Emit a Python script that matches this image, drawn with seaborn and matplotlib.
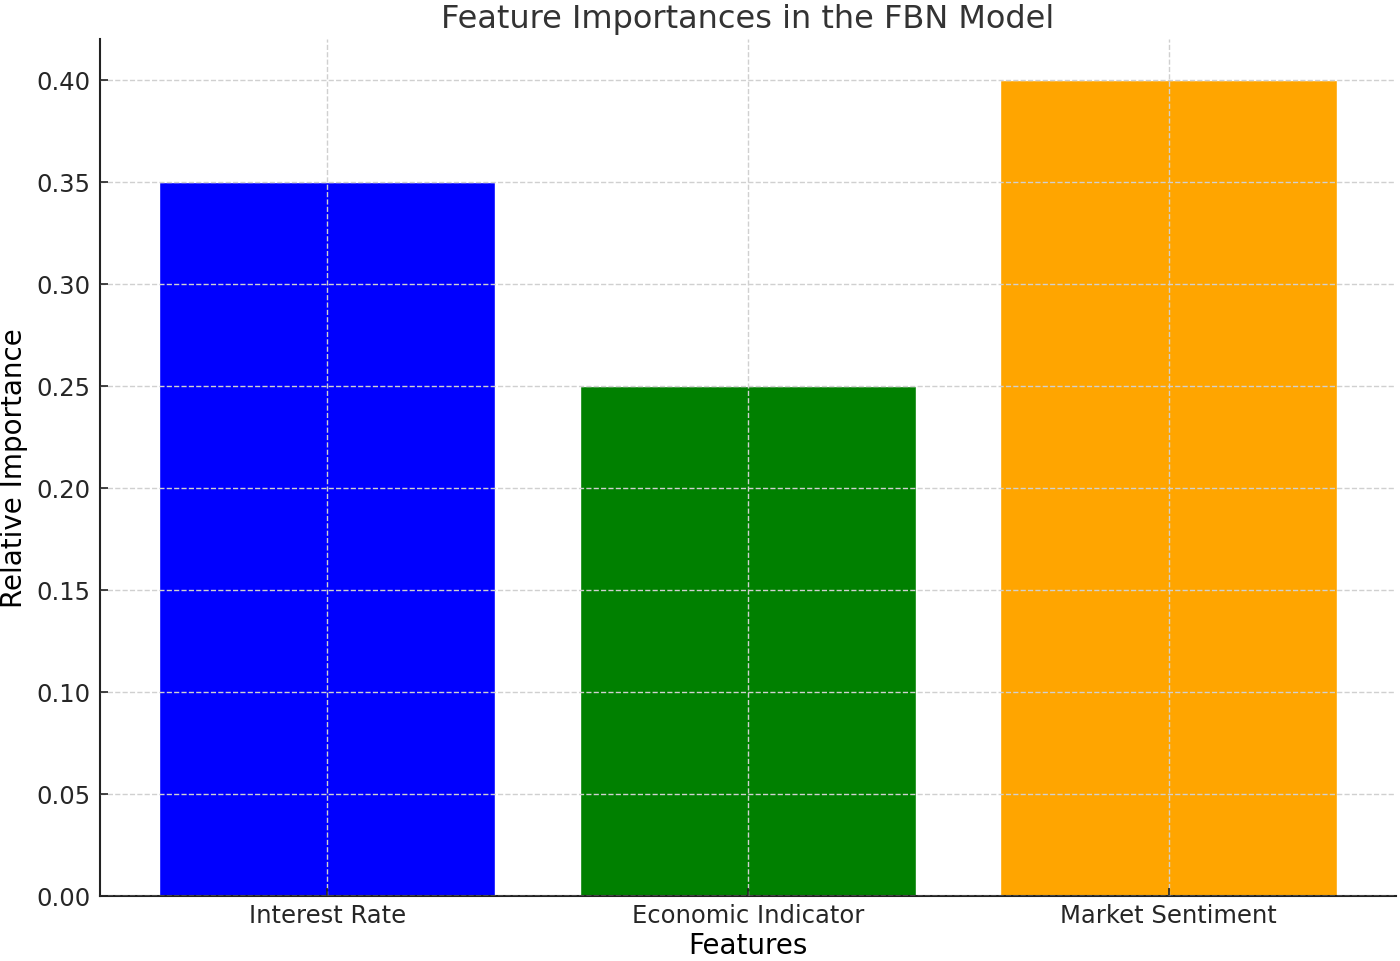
import matplotlib
matplotlib.use("Agg")
import matplotlib.pyplot as plt
import pandas as pd
import seaborn as sns

features = ["Interest Rate", "Economic Indicator", "Market Sentiment"]
importances = [0.35, 0.25, 0.40]
bar_colors = ["#0000ff", "#008000", "#ffa500"]

title = "Feature Importances in the FBN Model"
x_label = "Features"
y_label = "Relative Importance"


def make_plot():
    data = pd.DataFrame({"feature": features, "importance": importances})

    sns.set_theme(style="ticks")
    plt.rcParams["font.family"] = ["DejaVu Sans"]
    text_color = "#262626"

    fig = plt.figure(figsize=(14, 9.62), dpi=100)
    ax = fig.add_axes([0.0714, 0.0676, 0.9256, 0.8908])

    sns.barplot(data=data, x="feature", y="importance", hue="feature",
                palette=bar_colors, legend=False, width=0.8,
                saturation=1, ax=ax)

    ax.set_xlim(-0.54, 2.54)
    ax.set_ylim(0, 0.42)
    ax.set_yticks([0.0, 0.05, 0.10, 0.15, 0.20, 0.25, 0.30, 0.35, 0.40])
    ax.set_yticklabels([f"{v:.2f}" for v in ax.get_yticks()])

    ax.set_axisbelow(False)
    ax.grid(True, linestyle="--", linewidth=1.0, color="#d0d0d0")

    sns.despine(ax=ax)
    for side in ["left", "bottom"]:
        ax.spines[side].set_linewidth(1.5)
        ax.spines[side].set_color("#222222")

    ax.tick_params(axis="both", direction="in", length=6, width=1.2,
                   labelsize=17.5, labelcolor=text_color, color="#222222")
    ax.tick_params(axis="y", pad=7)
    ax.tick_params(axis="x", pad=5)

    ax.set_xlabel(x_label, fontsize=20, color="black", labelpad=3)
    ax.set_ylabel(y_label, fontsize=20, color="black", labelpad=6)
    ax.set_title(title, fontsize=23, color="#333333", pad=9)

    fig.savefig("out.png", dpi=100)


make_plot()
